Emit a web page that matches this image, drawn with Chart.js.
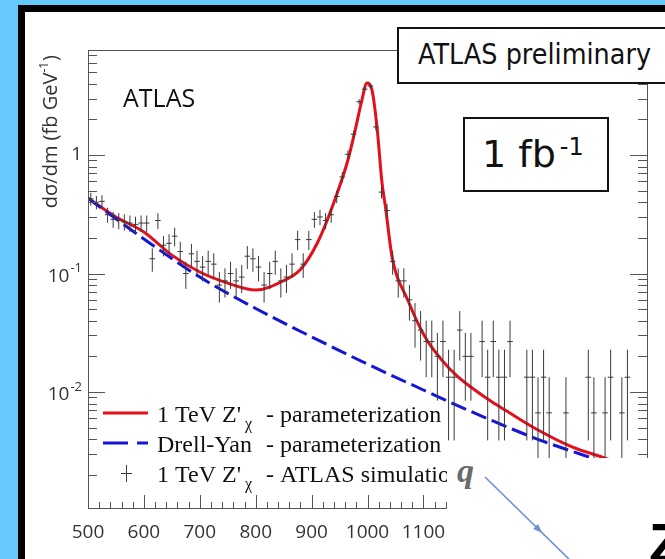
<!DOCTYPE html>
<html>
<head>
<meta charset="utf-8">
<title>Z' resonance at 1 TeV</title>
<script src="https://cdn.jsdelivr.net/npm/chart.js@4.4.1/dist/chart.umd.min.js"></script>
<style>
  html, body { margin: 0; width: 665px; height: 559px; overflow: hidden; }
  body { position: relative; background: #66c9fb; }
  #sheet { position: absolute; left: 18px; top: 5px; width: 640px; height: 547px; background: #fff;
           border-left: 7px solid #000; border-top: 7px solid #000; }
  #plot { position: absolute; left: 25px; top: 12px; }
  .tag { position: absolute; box-sizing: border-box; background: #fff; border: 2px solid #111;
         font-family: "DejaVu Sans", sans-serif; color: #111; white-space: nowrap; }
  .tag span { position: absolute; line-height: 1; }
  #prelim { left: 397px; top: 27px; width: 268px; height: 57px; border-right: none; }
  #prelim span { left: 19px; top: 11px; font-size: 29px; transform: scaleX(0.88); transform-origin: left; }
  #lumi { left: 463px; top: 117px; width: 146px; height: 75px; }
  #lumi span { left: 17px; top: 16px; font-size: 38px; }
  #lumi sup { font-size: 24px; vertical-align: 12px; line-height: 0; margin-left: 4px; }
  #diagram { position: absolute; left: 447px; top: 458px; width: 218px; height: 101px; background: #fff; overflow: hidden; }
  #diagram svg { position: absolute; left: 0; top: 0; }
  #quark { position: absolute; left: 10px; top: -4px; font: italic bold 34px/34px "Liberation Serif", serif; color: #6a6a6a; }
  #boson { position: absolute; left: 202px; top: 57px; font: bold 56px/56px "Liberation Sans", sans-serif; color: #000; }
</style>
</head>
<body>
<div id="sheet"></div>
<canvas id="plot" width="640" height="547"></canvas>
<div class="tag" id="prelim"><span>ATLAS preliminary</span></div>
<div class="tag" id="lumi"><span>1 fb<sup>-1</sup></span></div>
<div id="diagram">
  <span id="quark">q</span>
  <svg width="218" height="101">
    <line x1="38" y1="19" x2="126" y2="105" stroke="#6d8fd8" stroke-width="1.6"/>
    <polygon points="95.1,74.8 86.2,71.0 91.0,66.0" fill="#6d8fd8"/>
  </svg>
  <span id="boson">Z</span>
</div>

<script>
// simulated 1 TeV Z' sample, 10 GeV bins: bin centre (GeV) and events in the bin
const binMass = [505, 515, 525, 535, 545, 555, 565, 575, 585, 595,
                 605, 615, 625, 635, 645, 655, 665, 675, 685, 695,
                 705, 715, 725, 735, 745, 755, 765, 775, 785, 795,
                 805, 815, 825, 835, 845, 855, 865, 875, 885, 895,
                 905, 915, 925, 935, 945, 955, 965, 975, 985, 995,
                 1005, 1015, 1025, 1035, 1045, 1055, 1065, 1075, 1085, 1095,
                 1105, 1115, 1125, 1135, 1145, 1155, 1165, 1175, 1185, 1205,
                 1215, 1225, 1235, 1245, 1255, 1285, 1295, 1305, 1315, 1325,
                 1355, 1395, 1405, 1425, 1435, 1455, 1465];
const binEvents = [64, 60, 61, 47, 43, 42, 41, 40, 39, 40,
                   40, 20, 42, 26, 27, 31, 23, 15, 22, 19,
                   17, 19, 18, 12, 13, 15, 13, 14, 21, 20,
                   17, 12, 15, 19, 13, 14, 18, 29, 18, 29,
                   43, 45, 42, 47, 67, 98, 152, 225, 423, 540,
                   574, 259, 73, 51, 19, 13, 13, 9, 6, 5,
                   4, 4, 3, 4, 2, 2, 5, 3, 3, 4,
                   2, 4, 2, 2, 4, 2, 2, 1, 2, 1,
                   1, 2, 1, 1, 2, 1, 2];
const eventWeight = 1 / 150;   // fb/GeV for one event
const binWidth = 10;

// Drell-Yan parameterization
const dyMass = [500, 600, 700, 800, 900, 1000, 1100, 1200, 1300, 1400, 1500];
const dyXsec = [0.43, 0.196, 0.0933, 0.0507, 0.0292, 0.0172, 0.0104, 0.00638, 0.00407, 0.00279, 0.00195];

// 1 TeV Z'chi + Drell-Yan parameterization
const zpMass = [500, 550, 600, 650, 700, 750, 800, 850, 880, 910, 940, 965, 978, 990, 999,
                1008, 1017, 1026, 1032, 1044, 1072, 1103, 1133, 1162, 1192, 1223, 1246,
                1305, 1366, 1425, 1500];
const zpXsec = [0.434, 0.30, 0.224, 0.143, 0.103, 0.083, 0.0726, 0.087, 0.108, 0.18, 0.40, 0.908, 1.625, 2.91, 4.05,
                3.54, 1.72, 0.58, 0.37, 0.138, 0.0598, 0.0291, 0.0186, 0.0134, 0.0104, 0.00823, 0.00705,
                0.00478, 0.00344, 0.00277, 0.0021];

const xMin = 500, xMax = 1500;
const yMin = 1.05e-3, yMax = 7.7;
const yLabelValues = [1, 0.1, 0.01];
const yLabelBase = ['1', '10', '10'];
const yLabelExp = ['', '-1', '-2'];

const zpColor = '#e3101c';
const dyColor = '#1515d5';
const markColor = '#3a3a3a';
const axisColor = '#555';

const legendRows = [
    { main: "1 TeV Z'", sub: 'χ', tail: '- parameterization', mark: 'line', color: zpColor },
    { main: 'Drell-Yan', sub: '', tail: '- parameterization', mark: 'dash', color: dyColor },
    { main: "1 TeV Z'", sub: 'χ', tail: '- ATLAS simulation', mark: 'cross', color: markColor }
];

document.addEventListener('DOMContentLoaded', () => {
    // error bars and bin widths as broken line segments
    const errorBars = [];
    const binBars = [];
    binMass.forEach((m, i) => {
        const n = binEvents[i];
        const v = n * eventWeight;
        const err = Math.sqrt(n) * eventWeight;
        errorBars.push({ x: m, y: Math.max(v - err, yMin) }, { x: m, y: v + err }, { x: m, y: null });
        binBars.push({ x: m - binWidth / 2, y: v }, { x: m + binWidth / 2, y: v }, { x: m, y: null });
    });

    // frame, inward ticks, axis texts and the legend
    const decorations = {
        id: 'decorations',
        afterDatasetsDraw(chart) {
            const { ctx, chartArea: a, scales: { x, y } } = chart;
            ctx.save();
            ctx.strokeStyle = axisColor;
            ctx.lineWidth = 1;
            ctx.strokeRect(a.left + 0.5, a.top + 0.5, a.right - a.left, a.bottom - a.top);

            ctx.beginPath();
            for (let m = xMin; m <= xMax; m += 20) {
                const px = Math.round(x.getPixelForValue(m)) + 0.5;
                const len = m % 100 === 0 ? 13 : 6;
                ctx.moveTo(px, a.bottom);
                ctx.lineTo(px, a.bottom - len);
            }
            for (let e = -3; e <= 0; e++) {
                for (let f = 1; f <= 9; f++) {
                    const v = f * Math.pow(10, e);
                    if (v < yMin || v > yMax) continue;
                    const py = Math.round(y.getPixelForValue(v)) + 0.5;
                    const len = f === 1 ? 17 : 9;
                    ctx.moveTo(a.left, py);
                    ctx.lineTo(a.left + len, py);
                    ctx.moveTo(a.right, py);
                    ctx.lineTo(a.right - len, py);
                }
            }
            ctx.stroke();

            // y tick labels with exponents
            ctx.fillStyle = '#333';
            ctx.textAlign = 'right';
            ctx.textBaseline = 'middle';
            yLabelValues.forEach((v, i) => {
                const py = y.getPixelForValue(v);
                let xr = a.left - 6;
                if (yLabelExp[i]) {
                    ctx.font = '13px "Open Sans"';
                    ctx.fillText(yLabelExp[i], xr, py - 5);
                    xr -= ctx.measureText(yLabelExp[i]).width + 1;
                }
                ctx.font = '19px "Open Sans"';
                ctx.fillText(yLabelBase[i], xr, py + (yLabelExp[i] ? 3 : 0));
            });

            // y title, rotated and pushed to the top
            ctx.save();
            ctx.translate(a.left - 31, a.top + 5);
            ctx.rotate(-Math.PI / 2);
            ctx.textAlign = 'left';
            ctx.textBaseline = 'alphabetic';
            const titleMain = 'dσ/dm (fb GeV', titleExp = '-1', titleEnd = ')';
            ctx.font = '20px "Open Sans"';
            const w1 = ctx.measureText(titleMain).width;
            const w3 = ctx.measureText(titleEnd).width;
            ctx.font = '12px "Open Sans"';
            const w2 = ctx.measureText(titleExp).width + 1;
            let pos = -(w1 + w2 + w3);
            ctx.font = '20px "Open Sans"';
            ctx.fillText(titleMain, pos, 0);
            ctx.fillText(titleEnd, pos + w1 + w2, 0);
            ctx.font = '12px "Open Sans"';
            ctx.fillText(titleExp, pos + w1, -9);
            ctx.restore();

            ctx.fillStyle = '#111';
            ctx.textAlign = 'left';
            ctx.textBaseline = 'alphabetic';
            ctx.font = '25px "Open Sans"';
            ctx.fillText('ATLAS', a.left + 35, a.top + 57);

            // legend
            legendRows.forEach((row, i) => {
                const base = a.bottom - 86 + i * 30;
                ctx.strokeStyle = row.color;
                ctx.beginPath();
                if (row.mark === 'cross') {
                    ctx.lineWidth = 1;
                    ctx.moveTo(a.left + 38.5, base - 17);
                    ctx.lineTo(a.left + 38.5, base);
                    ctx.moveTo(a.left + 33, base - 8.5);
                    ctx.lineTo(a.left + 44, base - 8.5);
                } else {
                    ctx.lineWidth = 3;
                    ctx.setLineDash(row.mark === 'dash' ? [25, 9] : []);
                    ctx.moveTo(a.left + 15, base - 9);
                    ctx.lineTo(a.left + 60, base - 9);
                }
                ctx.stroke();
                ctx.setLineDash([]);

                ctx.fillStyle = '#111';
                ctx.font = '24px "Liberation Serif"';
                ctx.fillText(row.main, a.left + 69, base);
                ctx.fillText(row.tail, a.left + 178, base);
                if (row.sub) {
                    ctx.font = '16px "Liberation Serif"';
                    ctx.fillText(row.sub, a.left + 157, base + 7);
                }
            });
            ctx.restore();
        }
    };

    const ctx = document.getElementById('plot').getContext('2d');
    new Chart(ctx, {
        type: 'line',
        data: {
            datasets: [
                {
                    label: 'simulation errors',
                    data: errorBars,
                    borderColor: markColor,
                    borderWidth: 1,
                    pointRadius: 0,
                    spanGaps: false,
                    order: 0
                },
                {
                    label: 'simulation bins',
                    data: binBars,
                    borderColor: markColor,
                    borderWidth: 1,
                    pointRadius: 0,
                    spanGaps: false,
                    order: 0
                },
                {
                    label: 'Drell-Yan',
                    data: dyMass.map((m, i) => ({ x: m, y: dyXsec[i] })),
                    borderColor: dyColor,
                    borderWidth: 3,
                    borderDash: [16, 6],
                    pointRadius: 0,
                    cubicInterpolationMode: 'monotone',
                    order: 1
                },
                {
                    label: "1 TeV Z'",
                    data: zpMass.map((m, i) => ({ x: m, y: zpXsec[i] })),
                    borderColor: zpColor,
                    borderWidth: 3,
                    pointRadius: 0,
                    cubicInterpolationMode: 'monotone',
                    order: 2
                }
            ]
        },
        options: {
            responsive: false,
            animation: false,
            layout: { padding: { top: 38, right: 18, left: 0, bottom: 0 } },
            plugins: {
                legend: { display: false },
                tooltip: { enabled: false }
            },
            scales: {
                x: {
                    type: 'linear',
                    min: xMin,
                    max: xMax,
                    grid: { display: false },
                    border: { display: false },
                    ticks: {
                        stepSize: 100,
                        padding: 5,
                        color: '#333',
                        font: { family: 'Open Sans', size: 19 },
                        callback: (v) => String(v)
                    },
                    afterFit: (s) => { s.height = 51; s.paddingLeft = 0; s.paddingRight = 0; }
                },
                y: {
                    type: 'logarithmic',
                    min: yMin,
                    max: yMax,
                    grid: { display: false },
                    border: { display: false },
                    ticks: { display: false },
                    afterFit: (s) => { s.width = 63; }
                }
            }
        },
        plugins: [decorations]
    });
});
</script>
</body>
</html>
